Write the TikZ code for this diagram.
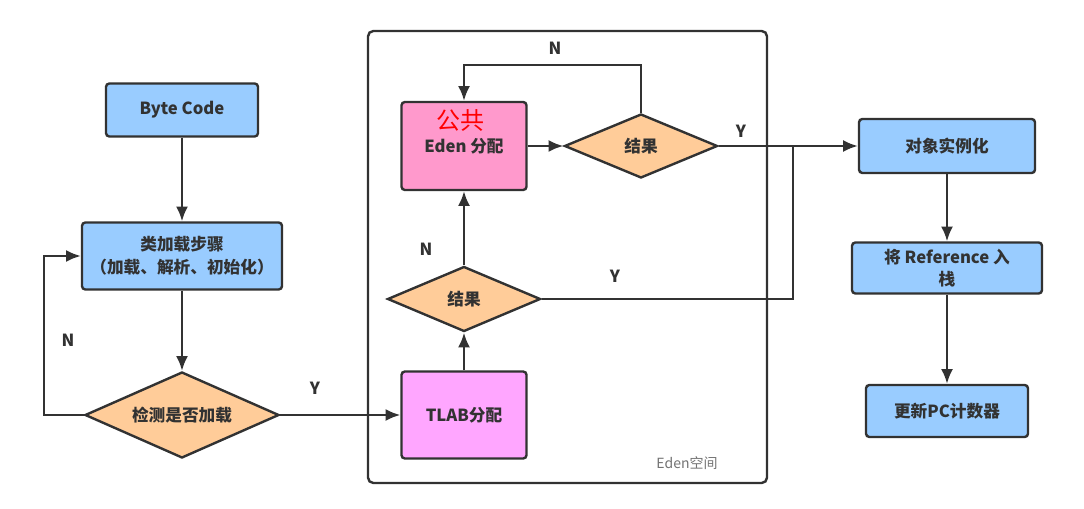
\documentclass[tikz,border=0pt]{standalone}
\usepackage{fontspec}
\setmainfont{Noto Sans CJK SC}
\usepackage{tikz}
\usetikzlibrary{arrows,arrows.meta,shapes.geometric,positioning,calc}
\definecolor{kastenblau}{RGB}{153,204,255}
\definecolor{edenrosa}{RGB}{255,153,204}
\definecolor{tlabviolett}{RGB}{255,166,255}
\definecolor{rautenorange}{RGB}{255,204,153}
\definecolor{linie}{RGB}{50,50,50}
\def\px{0.75pt}
\tikzset{
  kasten/.style={draw=linie,line width=1.8pt,rounded corners=2.5pt,fill=kastenblau,align=center,
    font=\fontsize{12.5}{17}\selectfont\bfseries,text=linie,inner sep=0pt},
  raute/.style={diamond,draw=linie,line width=1.8pt,fill=rautenorange,inner sep=0pt,shape aspect=2.3,
    font=\fontsize{12.5}{17}\selectfont\bfseries,text=linie},
  pfeil/.style={-{Latex[length=11pt,width=9pt]},draw=linie,line width=1.8pt},
  jn/.style={font=\fontsize{12.5}{14}\selectfont\bfseries,text=linie}
}
\begin{document}
\begin{tikzpicture}[x=0.75pt,y=-0.75pt]
%Koordinaten in Pixeln des Bildes (y nach unten)
\useasboundingbox[fill=white] (0,0) rectangle (1084,509);
%Eden-Raum
\draw[linie,line width=1.8pt,rounded corners=4pt] (368,31) rectangle (767,483);
\node[text=black!55,font=\fontsize{10.5}{12}\selectfont] (edenraum) at (687,463) {Eden空间};
%linke Spalte
\node[kasten,minimum width=152*\px,minimum height=53*\px] (byte) at (182,110) {Byte Code};
\node[kasten,minimum width=200*\px,minimum height=67*\px] (lade) at (182,256) {类加载步骤\\（加载、解析、初始化）};
\node[raute,minimum width=194*\px,minimum height=86*\px] (pruef) at (182,415) {检测是否加载};
%Eden
\node[kasten,fill=edenrosa,minimum width=125*\px,minimum height=88*\px] (eden) at (464,146) {Eden 分配};
\node[text=red,font=\fontsize{18}{20}\selectfont] (gemein) at (460,121) {公共};
\node[raute,minimum width=153*\px,minimum height=64*\px] (erg1) at (641,146) {结果};
\node[raute,minimum width=153*\px,minimum height=65*\px] (erg2) at (464,299) {结果};
\node[kasten,fill=tlabviolett,minimum width=125*\px,minimum height=87*\px] (tlab) at (464,415) {TLAB分配};
%rechte Spalte
\node[kasten,minimum width=176*\px,minimum height=54*\px] (objekt) at (947,146) {对象实例化};
\node[kasten,minimum width=190*\px,minimum height=51*\px] (refstack) at (947,268) {将 Reference 入\\栈};
\node[kasten,minimum width=162*\px,minimum height=52*\px] (pczaehler) at (947,411) {更新PC计数器};
%Knickpunkte
\coordinate (knickN) at (44,256);
\coordinate (knickO) at (464,65);
\coordinate (knickY) at (793,146);
%Pfeile
\draw[pfeil] (byte) -- (lade);
\draw[pfeil] (lade) -- (pruef);
\draw[pfeil] (pruef.west) -| (knickN) -- (lade.west);
\draw[pfeil] (pruef.east) -- (tlab.west);
\draw[pfeil] (tlab) -- (erg2);
\draw[pfeil] (erg2) -- (eden);
\draw[pfeil] (eden) -- (erg1);
\draw[pfeil] (erg1.north) |- (knickO) -- (eden.north);
\draw[pfeil] (erg1.east) -- (objekt.west);
\draw[linie,line width=1.8pt] (erg2.east) -| (knickY);
\draw[pfeil] (objekt) -- (refstack);
\draw[pfeil] (refstack) -- (pczaehler);
%Beschriftungen
\node[jn] (n1) at (68,340) {N};
\node[jn] (y1) at (315,388) {Y};
\node[jn] (n2) at (555,48) {N};
\node[jn] (y2) at (741,131) {Y};
\node[jn] (n3) at (426,249) {N};
\node[jn] (y3) at (615,276) {Y};
\end{tikzpicture}
\end{document}
